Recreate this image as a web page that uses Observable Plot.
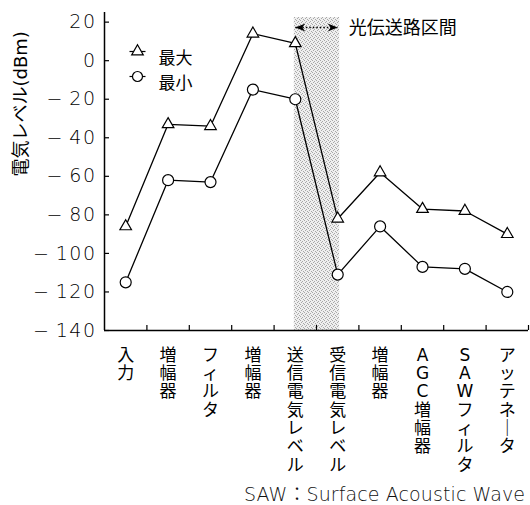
<!DOCTYPE html>
<html><head><meta charset="utf-8">
<script src="https://cdn.jsdelivr.net/npm/d3@7"></script>
<script src="https://cdn.jsdelivr.net/npm/@observablehq/plot@0.6"></script>
<style>
body{margin:0;background:#fff;}
#chart{width:530px;height:480px;}
#chart g[aria-label="y-axis tick label"]{letter-spacing:1.5px;font-weight:300;}
#caption{width:530px;height:25px;overflow:hidden;white-space:nowrap;font-size:19px;font-weight:300;letter-spacing:0.1px;font-family:"DejaVu Sans","Noto Sans CJK JP",sans-serif;padding-left:244px;padding-top:2px;box-sizing:border-box;line-height:25px;color:#111;}
</style></head><body>
<div id="chart"></div>
<div id="caption"></div>
<script>
const categories = ["入力","増幅器","フィルタ","増幅器","送信電気レベル","受信電気レベル","増幅器","AGC増幅器","SAWフィルタ","アッテネータ"];
const maxValues = [-86,-33,-34,14,9,-82,-58,-77,-78,-90];
const minValues = [-115,-62,-63,-15,-20,-111,-86,-107,-108,-120];
const seriesNames = ["最大","最小"];
const yTicks = [20,0,-20,-40,-60,-80,-100,-120,-140];
const yDomain = [-140, 25];
const yLabel = "電気レベル(dBm)";
const opticalSpan = ["送信電気レベル","受信電気レベル"];
const opticalLabel = "光伝送路区間";
const captionText = "SAW：Surface Acoustic Wave";

const FONT = '"DejaVu Sans","Noto Sans CJK JP",sans-serif';
const vertical = s => Array.from(s).map(c => c === "ー" ? "｜" : c).join("\n");
const fmt = d => d < 0 ? "−\u2009" + (-d) : String(d);

const hline = {draw(ctx, size){const r = Math.sqrt(size/Math.PI); ctx.moveTo(-r,0); ctx.lineTo(r,0);}};
const headRight = {draw(ctx, size){const r = Math.sqrt(size/Math.PI); ctx.moveTo(0,0); ctx.lineTo(-2*r,-0.8*r); ctx.lineTo(-1.4*r,0); ctx.lineTo(-2*r,0.8*r); ctx.closePath();}};
const headLeft = {draw(ctx, size){const r = Math.sqrt(size/Math.PI); ctx.moveTo(0,0); ctx.lineTo(2*r,-0.8*r); ctx.lineTo(1.4*r,0); ctx.lineTo(2*r,0.8*r); ctx.closePath();}};

const i0 = categories.indexOf(opticalSpan[0]) + 0.5;
const i1 = categories.indexOf(opticalSpan[1]) + 0.5;

const legendMarks = seriesNames.flatMap((name, i) => [
  Plot.dot([name], {frameAnchor: "top-left", dx: 33, dy: 39 + i*25, symbol: hline, r: 8, stroke: "black", strokeWidth: 1.2}),
  Plot.dot([name], {frameAnchor: "top-left", dx: 33, dy: 39 + i*25, symbol: i === 0 ? "triangle" : "circle", r: i === 0 ? 4.3 : 5, fill: "white", stroke: "black", strokeWidth: 1.2}),
  Plot.text([name], {frameAnchor: "top-left", dx: 54, dy: 39 + i*25, text: d => d, textAnchor: "start", fontSize: 17})
]);

const chart = Plot.plot({
  width: 530, height: 480,
  marginLeft: 104, marginRight: 2, marginTop: 12, marginBottom: 150,
  x: {domain: [0, categories.length]},
  y: {domain: yDomain},
  style: {fontFamily: FONT, color: "black", background: "white"},
  marks: [
    Plot.rect([opticalLabel], {x1: () => i0, x2: () => i1, y1: () => yDomain[0], y2: () => yDomain[1], insetTop: 5, insetLeft: -1, insetRight: -2, fill: "url(#stipple)"}),
    Plot.link([opticalLabel], {x1: () => i0, x2: () => i1, y1: () => yDomain[1], y2: () => yDomain[1], dy: 15, stroke: "black", strokeWidth: 1.3, strokeDasharray: "1.5,2"}),
    Plot.dot([opticalLabel], {x: () => i0, y: () => yDomain[1], dy: 15, symbol: headLeft, r: 5, fill: "black", stroke: "none"}),
    Plot.dot([opticalLabel], {x: () => i1, y: () => yDomain[1], dy: 15, symbol: headRight, r: 5, fill: "black", stroke: "none"}),
    Plot.text([opticalLabel], {x: () => i1, y: () => yDomain[1], dy: 16, dx: 11, text: d => d, textAnchor: "start", fontSize: 18}),
    Plot.ruleX([0], {stroke: "black", strokeWidth: 1.5}),
    Plot.ruleY([yDomain[0]], {stroke: "black", strokeWidth: 1.5}),
    Plot.axisY(yTicks, {tickSize: 0, tickPadding: 8, fontSize: 19, tickFormat: fmt, label: null}),
    Plot.axisY(yTicks, {tickSize: -5, fill: "none", label: null, strokeWidth: 1.2}),
    Plot.axisX(d3.range(1, categories.length + 1), {tickSize: -5, fill: "none", label: null, strokeWidth: 1.2}),
    Plot.text(categories, {x: (d, i) => i + 0.5, y: () => yDomain[0], text: d => vertical(d), lineAnchor: "top", dy: 17, fontSize: 17, lineHeight: 1.08, textAnchor: "middle"}),
    Plot.text([yLabel], {frameAnchor: "left", dx: -83, dy: 5, rotate: -90, text: d => d, fontSize: 18}),
    Plot.line(maxValues, {x: (d, i) => i + 0.5, y: d => d, stroke: "black", strokeWidth: 1.3}),
    Plot.line(minValues, {x: (d, i) => i + 0.5, y: d => d, stroke: "black", strokeWidth: 1.3}),
    Plot.dot(maxValues, {x: (d, i) => i + 0.5, y: d => d, symbol: "triangle", r: 4.3, fill: "white", stroke: "black", strokeWidth: 1.2}),
    Plot.dot(minValues, {x: (d, i) => i + 0.5, y: d => d, symbol: "circle", r: 5.5, fill: "white", stroke: "black", strokeWidth: 1.2}),
    ...legendMarks
  ]
});

// stipple pattern for the shaded optical section
const svg = d3.select(chart);
const pat = svg.insert("defs", ":first-child").append("pattern")
  .attr("id", "stipple").attr("patternUnits", "userSpaceOnUse").attr("width", 4).attr("height", 4);
pat.append("rect").attr("width", 4).attr("height", 4).attr("fill", "#efefef");
[[0,0],[2,1],[1,2],[3,3]].forEach(([x, y]) => pat.append("rect").attr("x", x).attr("y", y).attr("width", 1).attr("height", 1).attr("fill", "#a8a8a8"));

document.getElementById("chart").appendChild(chart);
document.getElementById("caption").textContent = captionText;
</script>
</body></html>
